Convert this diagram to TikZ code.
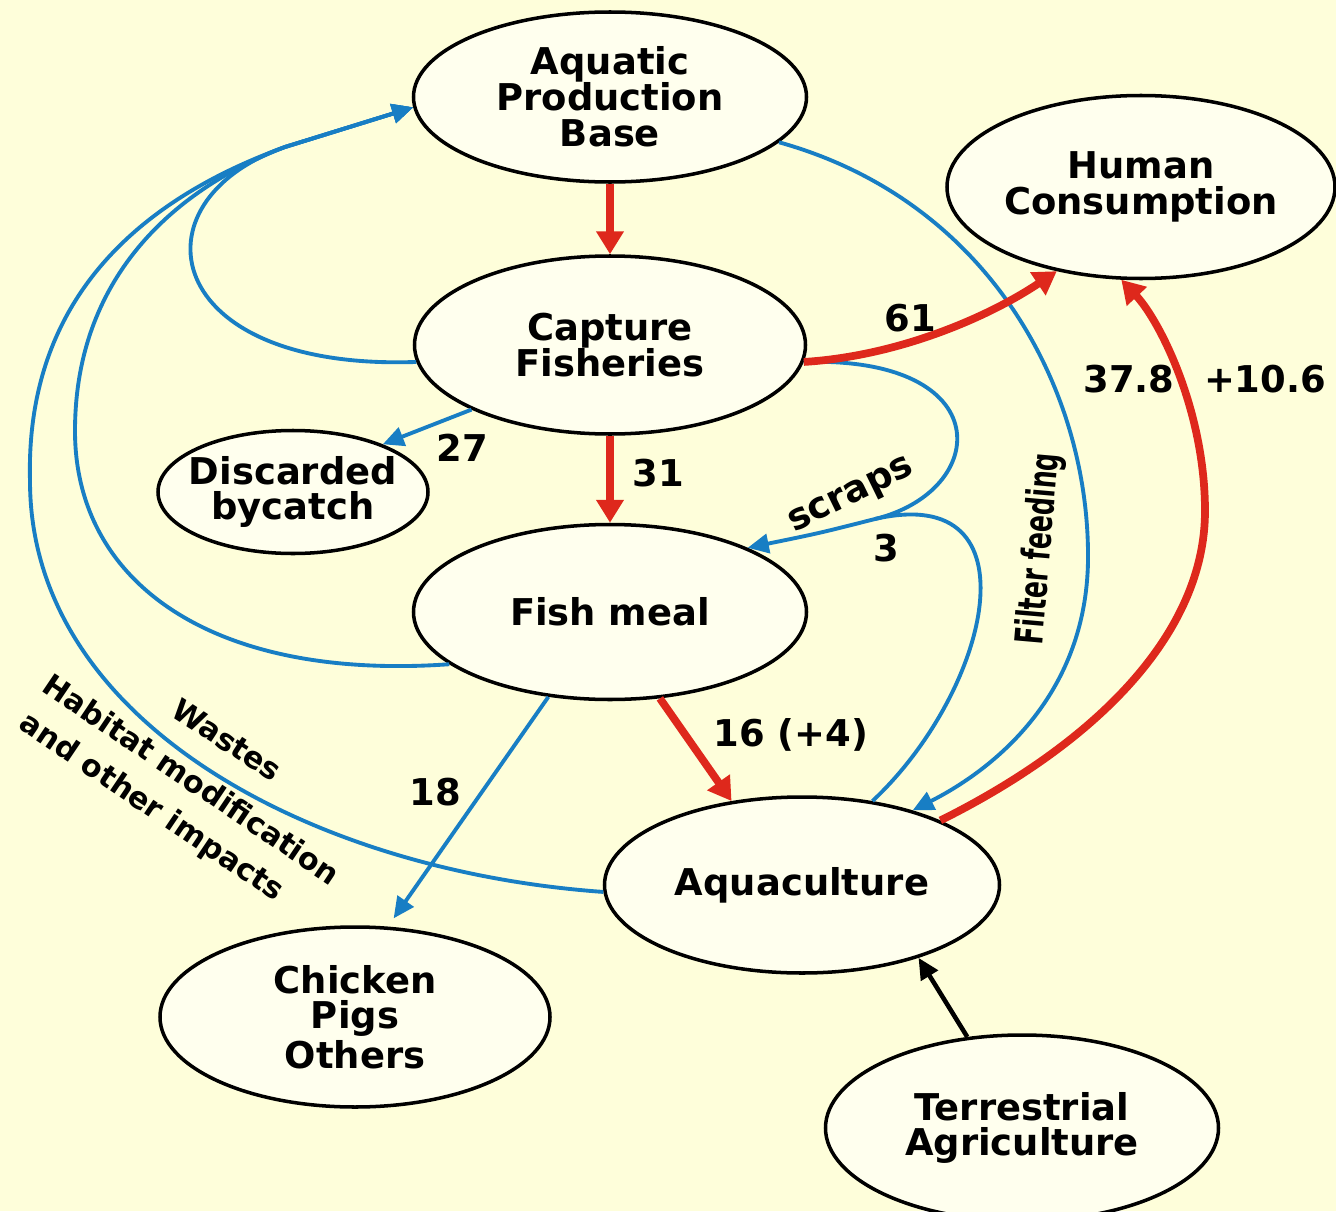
\documentclass[tikz,border=0pt]{standalone}
\usepackage{fontspec}
\setmainfont{DejaVu Sans}
\newfontfamily\narrowfont[FakeStretch=0.65]{DejaVu Sans}
\usepackage{tikz}
\usetikzlibrary {shapes.geometric}
\usetikzlibrary {arrows.meta}

\definecolor{bgyellow}{RGB}{254,254,218}
\definecolor{nodefill}{RGB}{255,255,238}
\definecolor{flowblue}{RGB}{24,126,196}
\definecolor{flowred}{RGB}{222,40,28}

\tikzset{
  blob/.style={ellipse, draw, line width=1pt, fill=nodefill, inner sep=0pt, align=center,
    font=\fontsize{10.5}{10.2}\selectfont\bfseries},
  redflow/.style={draw=flowred, line width=2.2pt, -{Triangle[length=6.5pt,width=7.5pt]}},
  blueflow/.style={draw=flowblue, line width=1.1pt, -{Triangle[length=6pt,width=5.5pt]}},
  blueline/.style={draw=flowblue, line width=1.1pt},
  blackflow/.style={draw=black, line width=1.3pt, -{Triangle[length=6pt,width=5.5pt]}},
  num/.style={font=\fontsize{10.5}{12}\selectfont\bfseries},
  side/.style={font=\fontsize{8.6}{10}\selectfont\bfseries},
}

\begin{document}
\begin{tikzpicture}
\useasboundingbox (0,0) rectangle (13.36,12.11);
\fill [bgyellow] (0,0) rectangle (13.36,12.11);

\node [blob, minimum width=3.93cm, minimum height=1.70cm] (base) at (6.10,11.14) {Aquatic\\Production\\Base};
\node [blob, minimum width=3.88cm, minimum height=1.83cm] (human) at (11.41,10.24) {Human\\Consumption};
\node [blob, minimum width=3.91cm, minimum height=1.78cm] (capture) at (6.10,8.66) {Capture\\Fisheries};
\node [blob, minimum width=2.70cm, minimum height=1.23cm, inner xsep=-3pt] (bycatch) at (2.93,7.19) {Discarded\\bycatch};
\node [blob, minimum width=3.93cm, minimum height=1.75cm] (meal) at (6.10,5.99) {Fish meal};
\node [blob, minimum width=3.95cm, minimum height=1.76cm] (aqua) at (8.02,3.26) {Aquaculture};
\node [blob, minimum width=3.90cm, minimum height=1.80cm] (animals) at (3.55,1.94) {Chicken\\Pigs\\Others};
\node [blob, minimum width=3.93cm, minimum height=1.86cm] (terr) at (10.22,0.83) {Terrestrial\\Agriculture};

\coordinate (loopjoin) at (2.85,10.64);
\coordinate (scrapjoin) at (8.75,6.92);

%back to the production base
\draw [blueflow] (capture.185) .. controls (1.6,8.4) and (1.3,10.1) .. (loopjoin) -- (base.183);
\draw [blueflow] (meal.198) .. controls (2.1,5.3) and (0.75,6.3) .. (0.75,7.8)
  .. controls (0.75,9.3) and (1.7,10.2) .. (loopjoin) -- (base.183);
\draw [blueflow] (aqua.182) .. controls (3.1,3.4) and (0.3,4.9) .. (0.3,7.3)
  .. controls (0.25,9.2) and (1.5,10.15) .. (loopjoin) -- (base.183);
\node [side, rotate=-33] (wastes) at (2.27,4.71) {Wastes};
\node [side, rotate=-34] (habitat) at (1.92,4.32) {Habitat modification};
\node [side, rotate=-34] (impacts) at (1.51,4.03) {and other impacts};

%bycatch and scraps
\draw [blueflow] (capture.205) to (bycatch.28);
\node [num] (n27) at (4.62,7.63) {27};
\draw [blueflow] (capture.-5) .. controls (10.0,8.55) and (9.9,7.2) .. (scrapjoin)
  .. controls (8.2,6.78) .. (meal.25);
\draw [blueline] (aqua.50) .. controls (9.9,5.2) and (10.4,7.3) .. (scrapjoin);
\node [num, rotate=26] (scraps) at (8.52,7.14) {scraps};
\node [num] (n3) at (8.86,6.63) {3};

%filter feeding
\draw [blueflow] (base.-15) .. controls (9.9,10.1) and (10.9,8.2) .. (10.88,6.5)
  .. controls (10.86,5.2) and (10.0,4.45) .. (aqua.34);
\node [rotate=85, font=\narrowfont\fontsize{11}{13}\selectfont\bfseries] (filter) at (10.40,6.62) {Filter feeding};

%feed for animals
\draw [blueflow, shorten >=1mm] (meal.234) to (animals.70);
\node [num] (n18) at (4.35,4.19) {18};
\draw [blackflow] (terr.121) to (aqua.-32);

%main flows
\draw [redflow] (base.south) to (capture.north);
\draw [redflow] (capture.south) to (meal.north);
\node [num] (n31) at (6.58,7.38) {31};
\draw [redflow] (capture.-5) .. controls (9.0,8.55) and (9.9,8.95) .. (human.225);
\node [num] (n61) at (9.10,8.93) {61};
\draw [redflow] (meal.-60) to (aqua.130);
\node [num] (n16) at (7.91,4.76) {16 (+4)};
\draw [redflow] (aqua.25) .. controls (11.0,4.7) and (12.05,5.8) .. (12.05,7.0)
  .. controls (12.05,8.0) and (11.6,8.9) .. (human.258);
\node [num] (n378) at (11.29,8.32) {37.8};
\node [num] (n106) at (12.65,8.32) {+10.6};

\end{tikzpicture}
\end{document}
